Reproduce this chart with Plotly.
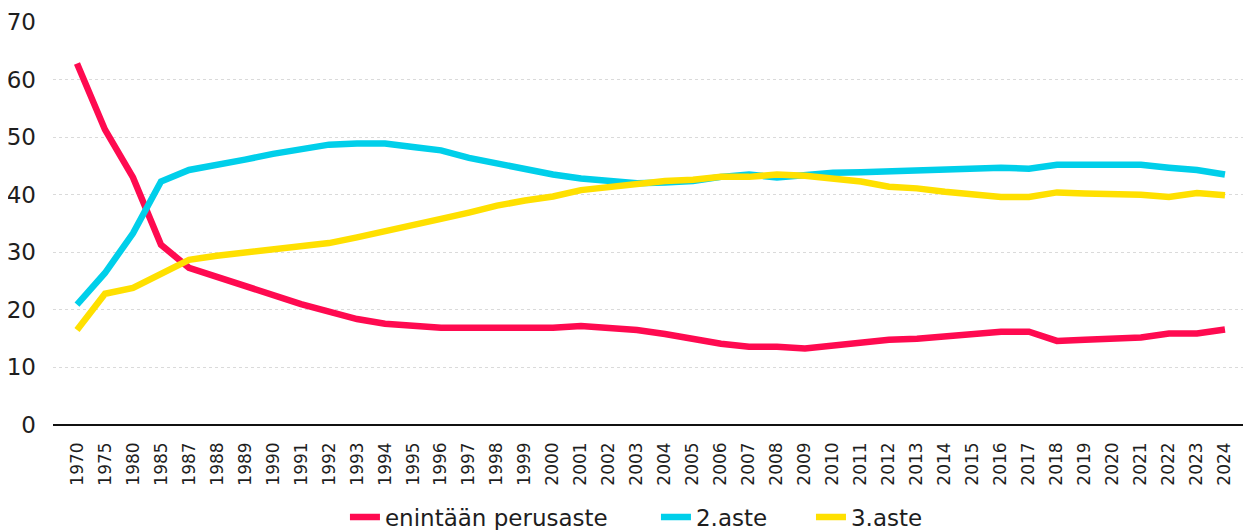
import plotly.graph_objects as go

years = ["1970", "1975", "1980", "1985"] + [str(y) for y in range(1987, 2025)]

perusaste = [62.8, 51.3, 43.0, 31.3, 27.3, 25.7, 24.0, 22.4, 21.0, 19.7, 18.4, 17.6,
             17.2, 16.9, 16.9, 16.9, 16.9, 16.9, 17.2, 16.9, 16.5, 15.8, 15.0, 14.1,
             13.6, 13.6, 13.3, 13.8, 14.2, 14.8, 15.0, 15.4, 15.7, 16.2, 16.2, 14.6,
             14.8, 15.0, 15.2, 15.9, 15.9, 16.6]

toinen_aste = [20.9, 26.4, 33.3, 42.3, 44.3, 45.1, 46.1, 47.1, 48.0, 48.7, 48.9, 48.9,
               48.3, 47.7, 46.4, 45.4, 44.5, 43.5, 42.8, 42.3, 42.0, 42.1, 42.4, 43.1,
               43.5, 43.0, 43.4, 43.8, 43.9, 44.1, 44.3, 44.5, 44.5, 44.7, 44.5, 45.2,
               45.2, 45.2, 45.2, 44.7, 44.3, 43.5]

kolmas_aste = [16.5, 22.8, 23.8, 26.4, 28.7, 29.4, 29.9, 30.4, 30.9, 31.6, 32.6, 33.6,
               34.6, 35.8, 36.9, 38.1, 39.0, 39.7, 40.8, 41.3, 42.0, 42.4, 42.6, 43.1,
               43.1, 43.5, 43.3, 42.9, 42.3, 41.4, 41.1, 40.5, 40.0, 39.6, 39.6, 40.4,
               40.2, 40.2, 40.0, 39.6, 40.3, 39.9]

series_names = ["enintään perusaste", "2.aste", "3.aste"]
series_values = [perusaste, toinen_aste, kolmas_aste]
colors = ["#FF0A50", "#00CFEA", "#FFE000"]
legend_ids = ["legend", "legend2", "legend3"]
legend_x = [0.2437, 0.5033, 0.6327]

y_ticks = [0, 10, 20, 30, 40, 50, 60, 70]

fig = go.Figure()
for name, vals, col, lid in zip(series_names, series_values, colors, legend_ids):
    fig.add_trace(go.Scatter(x=years, y=vals, name=name, mode="lines",
                             line=dict(color=col, width=6.5), legend=lid))

font_family = "DejaVu Sans, Verdana, sans-serif"
text_col = "#1E1E1E"

legend_common = dict(orientation="h", xanchor="left", yref="container",
                     y=0.0249, yanchor="middle",
                     font=dict(size=23, color=text_col, family=font_family),
                     bgcolor="rgba(0,0,0,0)", borderwidth=0)

layout_legends = {}
for lid, lx in zip(legend_ids, legend_x):
    layout_legends[lid] = dict(legend_common, x=lx)

# page body has an 8px margin, so the figure is 8px smaller and margins shifted
fig.update_layout(
    width=1243, height=522,
    margin=dict(l=45, r=0, t=14, b=105, autoexpand=False),
    paper_bgcolor="white", plot_bgcolor="white",
    font=dict(family=font_family, color=text_col),
    showlegend=True,
    xaxis=dict(type="category", range=[-0.857, 41.93], tickangle=-90,
               tickfont=dict(size=17, color=text_col), showgrid=False,
               showline=False, ticks="", zeroline=False, automargin=False,
               ticklabelstandoff=13),
    yaxis=dict(range=[0, 70], tickvals=y_ticks, ticktext=[str(v) for v in y_ticks],
               tickfont=dict(size=23, color=text_col),
               showgrid=True, gridcolor="#DADADA", griddash="dot", gridwidth=1,
               zeroline=True, zerolinecolor="#111111", zerolinewidth=1.5,
               ticks="", ticklabelstandoff=16, showline=False, automargin=False),
    **layout_legends,
)

fig.write_html("out.html")
